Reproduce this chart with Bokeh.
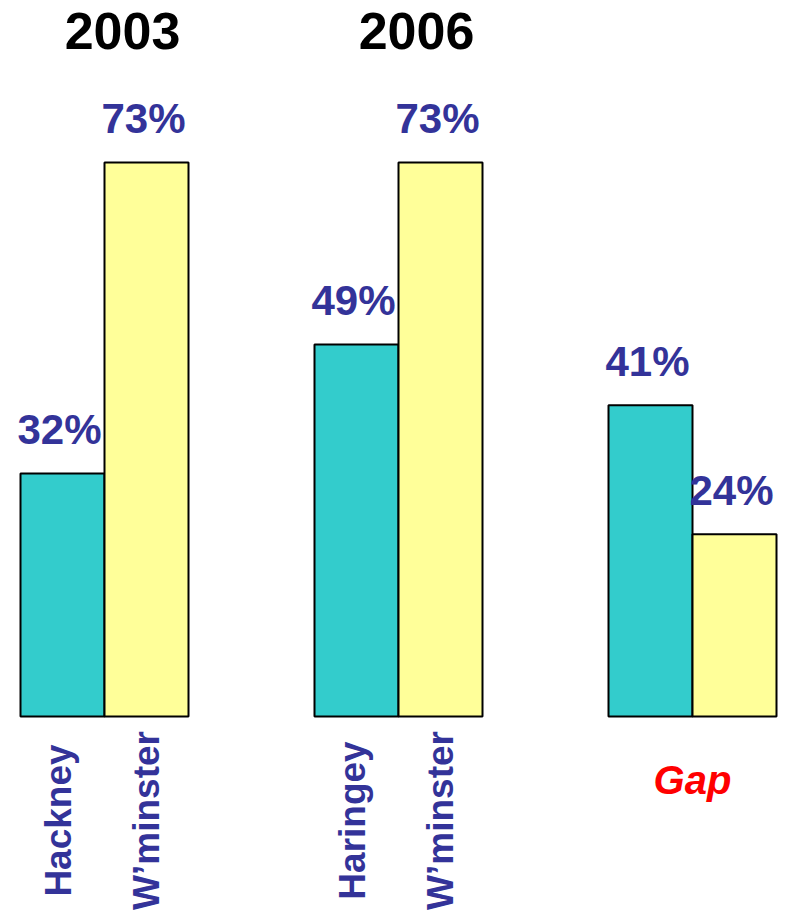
from bokeh.plotting import figure
from bokeh.models import Range1d, ColumnDataSource
from bokeh.embed import file_html
from bokeh.resources import INLINE
from bokeh.core.properties import value

# ---- data ----
group_titles = ["2003", "2006"]
group_labels = ["", "", "Gap"]
teal_names = ["Hackney", "Haringey", ""]
yellow_names = ["W\u2019minster", "W\u2019minster", ""]
teal_values = [32, 49, 41]
yellow_values = [73, 73, 24]

# ---- layout ----
W, H = 792, 916
base_px = 716          # baseline pixel row
px_per_pct = 7.59
y_top = base_px / px_per_pct
y_bot = -(H - base_px) / px_per_pct

group_start = 104
group_step = 294
bar_w = 84
centers = [group_start + group_step * i for i in range(len(teal_values))]
teal_x = [c - bar_w / 2 for c in centers]
yellow_x = [c + bar_w / 2 for c in centers]

TEAL = "#33CCCC"
YELLOW = "#FFFF99"
BLUE = "#333399"
FONT = value("Liberation Sans")

p = figure(width=W, height=H, x_range=Range1d(0, W), y_range=Range1d(y_bot, y_top),
           min_border=0, toolbar_location=None, output_backend="svg")
p.axis.visible = False
p.grid.visible = False
p.outline_line_color = None
p.background_fill_color = "white"

teal_src = ColumnDataSource(dict(x=teal_x, top=teal_values,
                                 lbl=[f"{v}%" for v in teal_values], name=teal_names))
yel_src = ColumnDataSource(dict(x=yellow_x, top=yellow_values,
                                lbl=[f"{v}%" for v in yellow_values], name=yellow_names))

for src, col, xo in ((teal_src, TEAL, -4), (yel_src, YELLOW, 0)):
    p.vbar(x="x", top="top", bottom=0, width=bar_w, source=src,
           fill_color=col, line_color="black", line_width=2)
    # value labels
    p.text(x="x", y="top", text="lbl", source=src, text_align="center",
           text_baseline="alphabetic", y_offset=-44, x_offset=-3,
           text_font=FONT, text_font_style="bold", text_font_size="42px",
           text_color=BLUE)
    # rotated names
    p.text(x="x", y=0, text="name", source=src, text_align="center",
           text_baseline="middle", angle=1.5708, y_offset=104, x_offset=xo,
           text_font=FONT, text_font_style="bold", text_font_size="37px",
           text_color=BLUE)

# group titles
title_src = ColumnDataSource(dict(x=centers[:len(group_titles)],
                                  y=[max(yellow_values)] * len(group_titles),
                                  t=group_titles))
p.text(x="x", y="y", text="t", source=title_src, text_align="center",
       text_baseline="alphabetic", x_offset=18, y_offset=-131,
       text_font=FONT, text_font_style="bold", text_font_size="52px",
       text_color="black")

# group label (Gap)
gl_src = ColumnDataSource(dict(x=centers, y=[0] * len(centers), t=group_labels))
p.text(x="x", y="y", text="t", source=gl_src, text_align="center",
       text_baseline="alphabetic", y_offset=63,
       text_font=FONT, text_font_style="bold italic", text_font_size="40px",
       text_color="#FF0000")

open("out.html", "w").write(file_html(p, INLINE))
